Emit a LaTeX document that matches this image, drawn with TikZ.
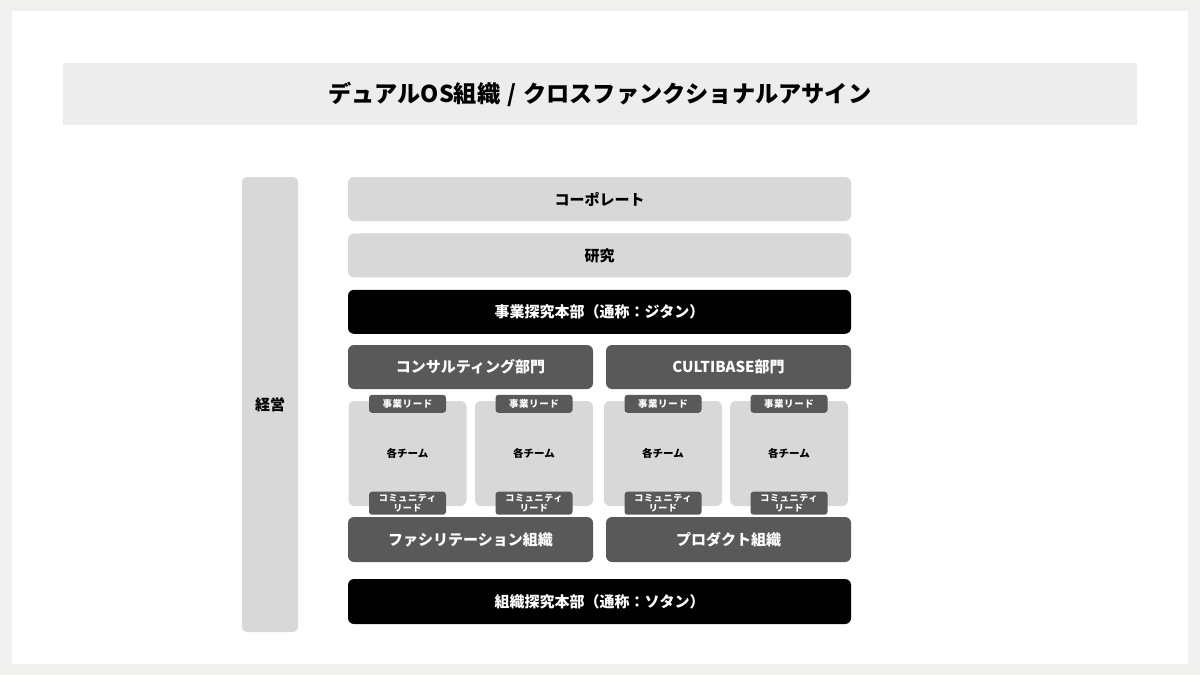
\documentclass[tikz,border=0pt]{standalone}
\usepackage{fontspec}
\setmainfont{Noto Sans CJK JP}
\usetikzlibrary{positioning}
\definecolor{bgouter}{HTML}{F0F0EF}
\definecolor{titlegray}{HTML}{EDEDED}
\definecolor{boxlight}{HTML}{D8D8D8}
\definecolor{boxdark}{HTML}{595959}
\tikzset{
        boxnode/.style={align=center, inner sep=0pt, rounded corners=6pt, font=\bfseries\fontsize{15}{18}\selectfont},
        % Light rows
        box_light/.style={boxnode, fill=boxlight, text=black, minimum width=503pt, minimum height=44pt},
        % Black rows
        box_black/.style={boxnode, fill=black, text=white, minimum width=503pt, minimum height=44pt},
        % Dark half rows
        box_dark/.style={boxnode, fill=boxdark, text=white, minimum width=245pt, minimum height=44pt},
        % Team boxes
        box_team/.style={boxnode, fill=boxlight, text=black, minimum width=118pt, minimum height=105pt, font=\bfseries\fontsize{10.5}{12}\selectfont},
        % Lead tags
        tag_lead/.style={align=center, inner sep=0pt, rounded corners=3pt, fill=boxdark, text=white, minimum width=77pt, minimum height=18pt, font=\bfseries\fontsize{9.5}{10}\selectfont\addfontfeatures{LetterSpace=6}},
        tag_comm/.style={tag_lead, minimum height=23pt, font=\bfseries\fontsize{9}{9.5}\selectfont\addfontfeatures{LetterSpace=8}}
}
\begin{document}
\begin{tikzpicture}[x=1pt, y=-1pt, node distance=12pt]
    \fill[bgouter] (0,0) rectangle (1200,675);
    \fill[white] (12,11) rectangle (1188,664);
    \useasboundingbox (0,0) rectangle (1200,675);
    % Title
    \fill[titlegray] (63,63) rectangle (1137,125);
    \node[font=\bfseries\fontsize{23.2}{28}\selectfont] (title) at (600,94) {デュアルOS組織\hspace{7pt}/\hspace{7pt}クロスファンクショナルアサイン};
    % Management
    \node[boxnode, fill=boxlight, minimum width=56pt, minimum height=455pt, rounded corners=5pt] (keiei) at (270,404.5) {経営};
    % Rows
    \node[box_light] (corporate) at (599.5,199) {コーポレート};
    \node[box_light, below=of corporate] (research) {研究};
    \node[box_black, below=of research] (jitan) {事業探究本部（通称：ジタン）};
    \node[box_dark] (consulting) at (470.5,367) {コンサルティング部門};
    \node[box_dark] (cultibase) at (728.5,367) {CULTIBASE部門};
    % Teams
    \foreach \tx [count=\i] in {407.5,534,663,789} {
        \node[box_team] (team\i) at (\tx,453.5) {各チーム};
        \node[tag_lead] (lead\i) at ([yshift=-3pt]team\i.north) {事業リード};
        \node[tag_comm] (comm\i) at ([yshift=3pt]team\i.south) {コミュニティ\\リード};
    }
    \node[box_dark, minimum height=45pt] (facilitation) at (470.5,539.5) {ファシリテーション組織};
    \node[box_dark, minimum height=45pt] (product) at (728.5,539.5) {プロダクト組織};
    \node[box_black, minimum height=45pt] (sotan) at (599.5,601.5) {組織探究本部（通称：ソタン）};
\end{tikzpicture}
\end{document}
